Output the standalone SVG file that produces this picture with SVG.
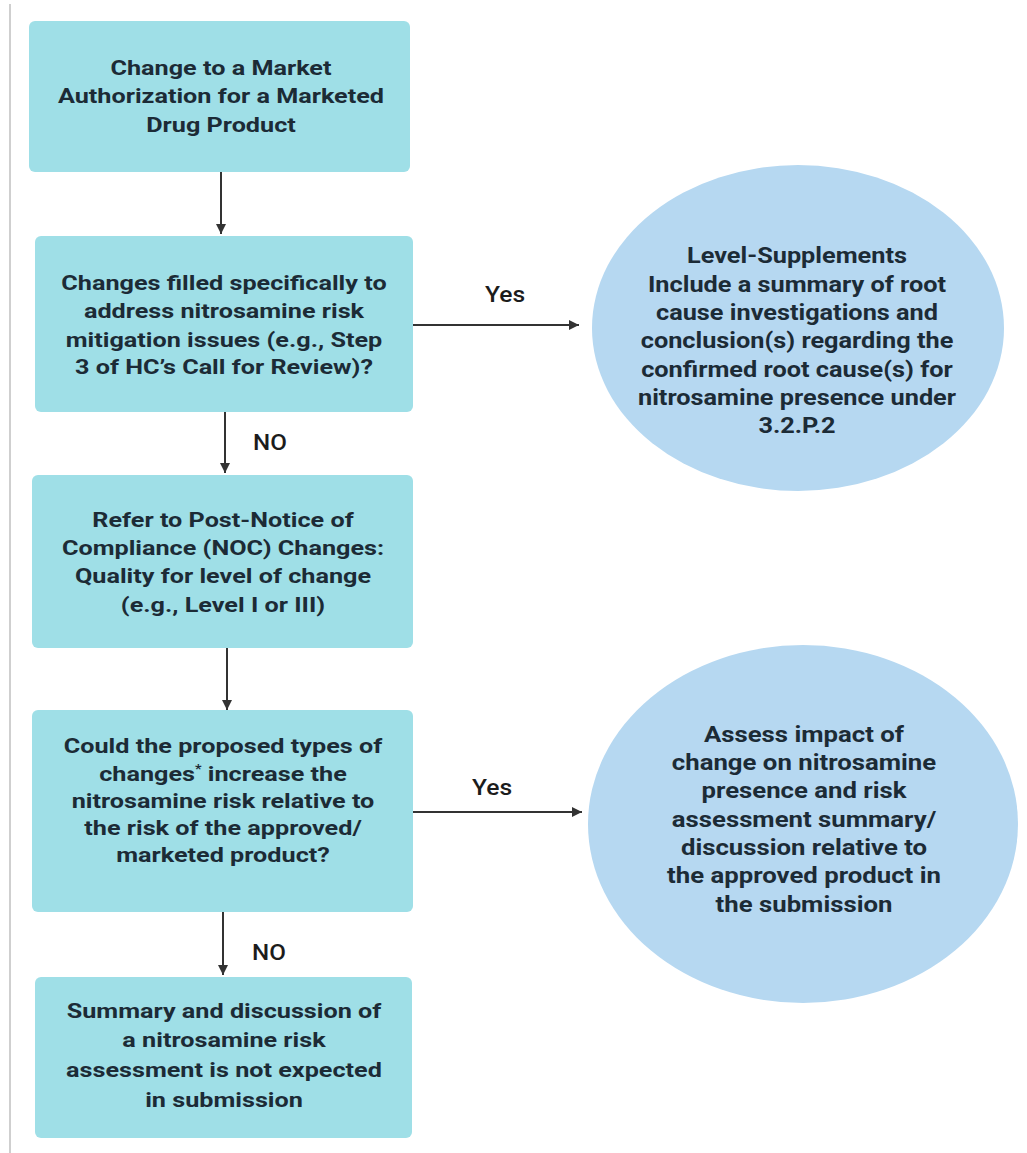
<svg xmlns="http://www.w3.org/2000/svg" width="1027" height="1153" viewBox="0 0 1027 1153">
<defs>
<style>
.box{fill:#9fdfe7;}
.circ{fill:#b6d8f1;}
.bt{font-family:Roboto,"Liberation Sans",sans-serif;font-weight:700;font-size:21px;fill:#1c2b36;text-anchor:middle;}
.ct{font-family:Roboto,"Liberation Sans",sans-serif;font-weight:700;font-size:22px;fill:#1c2b36;text-anchor:middle;}
.lbl{font-family:Roboto,"Liberation Sans",sans-serif;font-weight:500;font-size:22px;fill:#1c1c1c;text-anchor:middle;}
.conn{stroke:#333333;stroke-width:2;fill:none;marker-end:url(#ah);}
</style>
<marker id="ah" viewBox="0 0 10 10" refX="10" refY="5" markerWidth="5" markerHeight="5" orient="auto" markerUnits="strokeWidth">
<path d="M0,0 L10,5 L0,10 z" fill="#333333"/>
</marker>
</defs>
<rect width="1027" height="1153" fill="#ffffff"/>
<line x1="10" y1="4" x2="10" y2="1153" stroke="#cfcfcf" stroke-width="2"/>

<g id="connectors">
<line class="conn" x1="221" y1="172" x2="221" y2="234"/>
<line class="conn" x1="225" y1="412" x2="225" y2="473"/>
<line class="conn" x1="227" y1="648" x2="227" y2="710"/>
<line class="conn" x1="223" y1="912" x2="223" y2="975"/>
<line class="conn" x1="413" y1="325" x2="579" y2="325"/>
<line class="conn" x1="413" y1="812" x2="582" y2="812"/>
<text class="lbl" transform="translate(505,302) scale(1.12,1)" x="0" y="0">Yes</text>
<text class="lbl" transform="translate(492,795) scale(1.12,1)" x="0" y="0">Yes</text>
<text class="lbl" transform="translate(270,450) scale(1.1,1)" x="0" y="0">NO</text>
<text class="lbl" transform="translate(269,960) scale(1.1,1)" x="0" y="0">NO</text>
</g>

<g id="n1">
<rect class="box" x="29" y="21" width="381" height="151" rx="6"/>
<text class="bt" transform="translate(221,0) scale(1.2,1)"><tspan x="0" y="75">Change to a Market</tspan><tspan x="0" y="103">Authorization for a Marketed</tspan><tspan x="0" y="132">Drug Product</tspan></text>
</g>

<g id="n2">
<rect class="box" x="35" y="236" width="378" height="176" rx="6"/>
<text class="bt" transform="translate(224,0) scale(1.2,1)"><tspan x="0" y="290">Changes filled specifically to</tspan><tspan x="0" y="318">address nitrosamine risk</tspan><tspan x="0" y="347">mitigation issues (e.g., Step</tspan><tspan x="0" y="374">3 of HC’s Call for Review)?</tspan></text>
</g>

<g id="n3">
<rect class="box" x="32" y="475" width="381" height="173" rx="6"/>
<text class="bt" transform="translate(223,0) scale(1.2,1)"><tspan x="0" y="527">Refer to Post-Notice of</tspan><tspan x="0" y="555">Compliance (NOC) Changes:</tspan><tspan x="0" y="583">Quality for level of change</tspan><tspan x="0" y="612">(e.g., Level I or III)</tspan></text>
</g>

<g id="n4">
<rect class="box" x="32" y="710" width="381" height="202" rx="6"/>
<text class="bt" transform="translate(223,0) scale(1.2,1)"><tspan x="0" y="753">Could the proposed types of</tspan><tspan x="0" y="781">changes<tspan font-size="12" dy="-8">*</tspan><tspan dy="8"> increase the</tspan></tspan><tspan x="0" y="808">nitrosamine risk relative to</tspan><tspan x="0" y="835">the risk of the approved/</tspan><tspan x="0" y="862">marketed product?</tspan></text>
</g>

<g id="n5">
<rect class="box" x="35" y="977" width="377" height="161" rx="6"/>
<text class="bt" transform="translate(224,0) scale(1.2,1)"><tspan x="0" y="1018">Summary and discussion of</tspan><tspan x="0" y="1047">a nitrosamine risk</tspan><tspan x="0" y="1077">assessment is not expected</tspan><tspan x="0" y="1107">in submission</tspan></text>
</g>

<g id="c1">
<ellipse class="circ" cx="798" cy="328" rx="206" ry="163"/>
<text class="ct" transform="translate(797,0) scale(1.15,1)"><tspan x="0" y="263">Level-Supplements</tspan><tspan x="0" y="292">Include a summary of root</tspan><tspan x="0" y="320">cause investigations and</tspan><tspan x="0" y="348">conclusion(s) regarding the</tspan><tspan x="0" y="377">confirmed root cause(s) for</tspan><tspan x="0" y="405">nitrosamine presence under</tspan><tspan x="0" y="433">3.2.P.2</tspan></text>
</g>

<g id="c2">
<ellipse class="circ" cx="803" cy="824" rx="215" ry="179"/>
<text class="ct" transform="translate(804,0) scale(1.17,1)"><tspan x="0" y="742">Assess impact of</tspan><tspan x="0" y="770">change on nitrosamine</tspan><tspan x="0" y="798">presence and risk</tspan><tspan x="0" y="827">assessment summary/</tspan><tspan x="0" y="855">discussion relative to</tspan><tspan x="0" y="883">the approved product in</tspan><tspan x="0" y="912">the submission</tspan></text>
</g>
</svg>
